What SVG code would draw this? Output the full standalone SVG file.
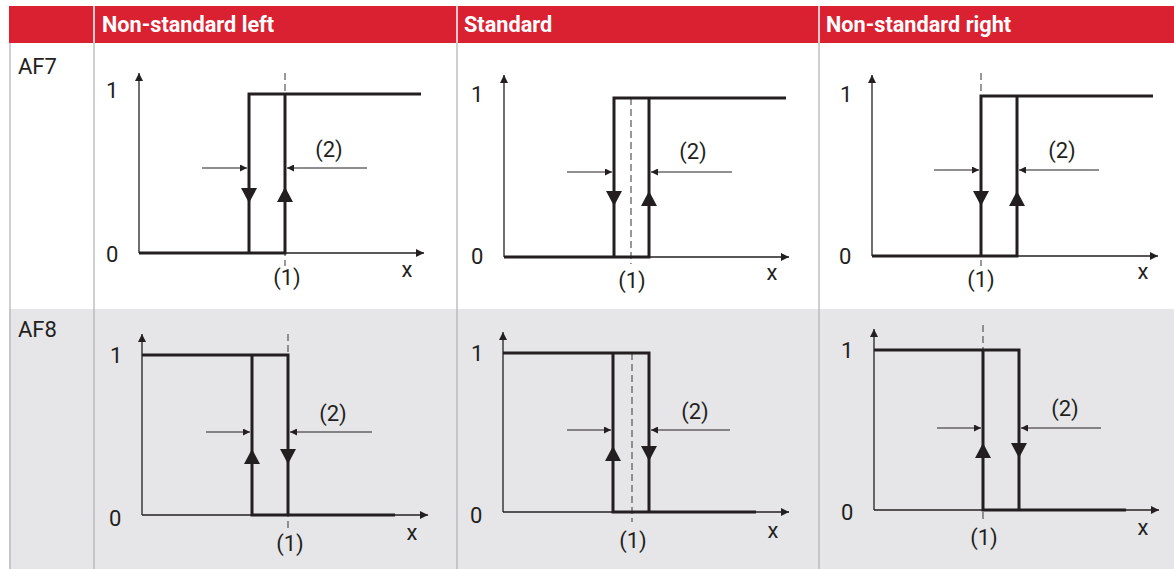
<svg xmlns="http://www.w3.org/2000/svg" xmlns:xlink="http://www.w3.org/1999/xlink" width="1174" height="569" viewBox="0 0 1174 569">
<style>
.hdr{fill:#da2131}
.ht{font-family:Roboto,"Liberation Sans",sans-serif;font-weight:bold;font-size:21.7px;fill:#fff}
.rl{font-family:Roboto,"Liberation Sans",sans-serif;font-size:22px;fill:#231f20}
.lb{font-family:Roboto,"Liberation Sans",sans-serif;font-size:22px;fill:#231f20}
.c{text-anchor:middle}
.ax{stroke:#231f20;stroke-width:1.3;fill:none;marker-end:url(#ah)}
.th{stroke:#231f20;stroke-width:3;fill:none;stroke-linejoin:miter}
.ds{stroke:#555;stroke-width:1.2;stroke-dasharray:7 4;fill:none}
.dim{stroke:#231f20;stroke-width:1.1;fill:none;marker-end:url(#ah2)}
.grid{stroke:#b5b5b8;stroke-width:1.3}
</style>
<defs>
<marker id="ah" viewBox="0 0 10 10" refX="10" refY="5" markerUnits="userSpaceOnUse" markerWidth="9" markerHeight="8" orient="auto"><path d="M0,0 L10,5 L0,10 z" fill="#231f20"/></marker>
<marker id="ah2" viewBox="0 0 10 10" refX="10" refY="5" markerUnits="userSpaceOnUse" markerWidth="8" markerHeight="7" orient="auto"><path d="M0,0 L10,5 L0,10 z" fill="#231f20"/></marker>
<path id="dn" d="M-8,0 L8,0 L0,15 z" fill="#231f20"/>
<path id="up" d="M-8,15 L8,15 L0,0 z" fill="#231f20"/>
</defs>
<rect width="1174" height="569" fill="#fff"/>
<g id="table">
<rect x="9" y="309" width="1165" height="260" fill="#e6e6e8"/>
<rect class="hdr" x="9" y="6" width="1165" height="37"/>
<line x1="94" y1="6" x2="94" y2="43" stroke="#fff" stroke-width="1.5"/>
<line x1="457" y1="6" x2="457" y2="43" stroke="#fff" stroke-width="1.5"/>
<line x1="819" y1="6" x2="819" y2="43" stroke="#fff" stroke-width="1.5"/>
<line class="grid" x1="10" y1="43" x2="10" y2="569"/>
<line class="grid" x1="94" y1="43" x2="94" y2="569"/>
<line class="grid" x1="457" y1="43" x2="457" y2="569"/>
<line class="grid" x1="819" y1="43" x2="819" y2="569"/>
<text class="ht" x="102" y="32">Non-standard left</text>
<text class="ht" x="464" y="32">Standard</text>
<text class="ht" x="826" y="32">Non-standard right</text>
<text class="rl" x="18" y="74">AF7</text>
<text class="rl" x="18" y="337">AF8</text>
</g>
<g id="af7-left">
<line class="ax" x1="139" y1="253" x2="139" y2="73"/>
<line class="ax" x1="139" y1="253" x2="424" y2="253"/>
<line class="ds" x1="285" y1="73" x2="285" y2="266"/>
<path class="th" d="M139,253 H285 V94 M249,253 V94 H421"/>
<use xlink:href="#dn" x="249" y="188"/>
<use xlink:href="#up" x="285" y="187"/>
<text class="lb" x="106" y="98">1</text>
<text class="lb" x="106" y="262">0</text>
<text class="lb c" x="329" y="157">(2)</text>
<text class="lb c" x="287" y="285">(1)</text>
<text class="lb c" x="407" y="277">x</text>
</g>
<g id="af7-standard">
<line class="ax" x1="504" y1="257" x2="504" y2="75"/>
<line class="ax" x1="504" y1="257" x2="789" y2="257"/>
<line class="ds" x1="631" y1="98" x2="631" y2="264"/>
<path class="th" d="M504,257 H649 V98 M614,257 V98 H786"/>
<use xlink:href="#dn" x="614" y="191"/>
<use xlink:href="#up" x="649" y="191"/>
<text class="lb" x="471" y="102">1</text>
<text class="lb" x="471" y="264">0</text>
<text class="lb c" x="693" y="159">(2)</text>
<text class="lb c" x="632" y="288">(1)</text>
<text class="lb c" x="772" y="280">x</text>
</g>
<g id="af7-right">
<line class="ax" x1="872" y1="256" x2="872" y2="75"/>
<line class="ax" x1="872" y1="256" x2="1158" y2="256"/>
<line class="ds" x1="981" y1="73" x2="981" y2="266"/>
<path class="th" d="M872,256 H1017 V96 M981,256 V96 H1153"/>
<use xlink:href="#dn" x="981" y="191"/>
<use xlink:href="#up" x="1017" y="191"/>
<text class="lb" x="840" y="102">1</text>
<text class="lb" x="839" y="264">0</text>
<text class="lb c" x="1062" y="158">(2)</text>
<text class="lb c" x="981" y="287">(1)</text>
<text class="lb c" x="1143" y="279">x</text>
</g>
<g id="af8-left">
<line class="ax" x1="142" y1="515" x2="142" y2="334"/>
<line class="ax" x1="142" y1="515" x2="428" y2="515"/>
<line class="ds" x1="288" y1="334" x2="288" y2="528"/>
<path class="th" d="M142,355 H288 V515 M252,355 V515 H395"/>
<use xlink:href="#up" x="252" y="449"/>
<use xlink:href="#dn" x="288" y="449"/>
<text class="lb" x="110" y="363">1</text>
<text class="lb" x="109" y="526">0</text>
<text class="lb c" x="333" y="421">(2)</text>
<text class="lb c" x="290" y="551">(1)</text>
<text class="lb c" x="412" y="540">x</text>
</g>
<g id="af8-standard">
<line class="ax" x1="503" y1="512" x2="503" y2="332"/>
<line class="ax" x1="503" y1="512" x2="789" y2="512"/>
<line class="ds" x1="632" y1="353" x2="632" y2="522"/>
<path class="th" d="M503,353 H649 V512 M613,353 V512 H756"/>
<use xlink:href="#up" x="613" y="446"/>
<use xlink:href="#dn" x="649" y="446"/>
<text class="lb" x="471" y="361">1</text>
<text class="lb" x="470" y="523">0</text>
<text class="lb c" x="695" y="419">(2)</text>
<text class="lb c" x="633" y="548">(1)</text>
<text class="lb c" x="773" y="538">x</text>
</g>
<g id="af8-right">
<line class="ax" x1="874" y1="510" x2="874" y2="329"/>
<line class="ax" x1="874" y1="510" x2="1159" y2="510"/>
<line class="ds" x1="983" y1="325" x2="983" y2="522"/>
<path class="th" d="M874,350 H1019 V510 M983,350 V510 H1126"/>
<use xlink:href="#up" x="983" y="443"/>
<use xlink:href="#dn" x="1019" y="443"/>
<text class="lb" x="841" y="358">1</text>
<text class="lb" x="841" y="520">0</text>
<text class="lb c" x="1065" y="416">(2)</text>
<text class="lb c" x="984" y="545">(1)</text>
<text class="lb c" x="1143" y="535">x</text>
</g>
<g id="connectors">
<line class="dim" x1="202" y1="168" x2="247" y2="168"/>
<line class="dim" x1="367" y1="168" x2="287" y2="168"/>
<line class="dim" x1="567" y1="172" x2="612" y2="172"/>
<line class="dim" x1="732" y1="172" x2="651" y2="172"/>
<line class="dim" x1="934" y1="170" x2="979" y2="170"/>
<line class="dim" x1="1099" y1="170" x2="1019" y2="170"/>
<line class="dim" x1="206" y1="432" x2="250" y2="432"/>
<line class="dim" x1="372" y1="432" x2="290" y2="432"/>
<line class="dim" x1="567" y1="430" x2="611" y2="430"/>
<line class="dim" x1="730" y1="430" x2="651" y2="430"/>
<line class="dim" x1="937" y1="428" x2="981" y2="428"/>
<line class="dim" x1="1101" y1="428" x2="1021" y2="428"/>
</g>
</svg>
